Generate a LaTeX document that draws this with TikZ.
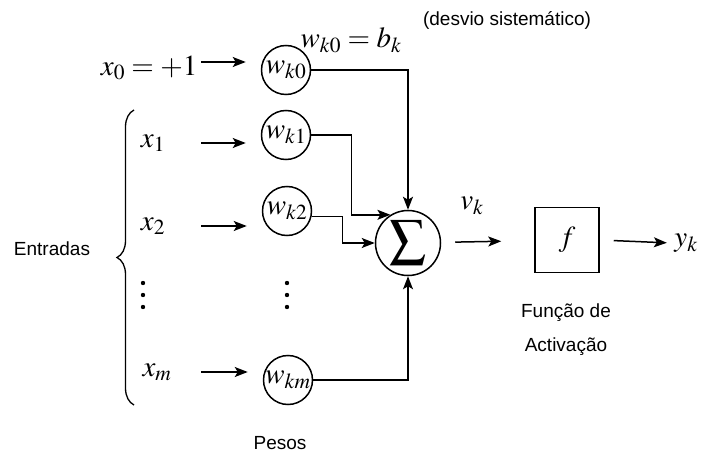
\documentclass[tikz,border=0pt]{standalone}
\usepackage{mathptmx}
\usepackage[no-math]{fontspec}
\setmainfont{Liberation Sans}
\usetikzlibrary{arrows.meta,decorations.pathreplacing}

\begin{document}
\begin{tikzpicture}[
  x=1pt,y=-1pt,
  >={Stealth[length=13pt,width=10pt,inset=3pt]},
  lbl/.style={font=\fontsize{19}{23}\selectfont},
  mth/.style={font=\fontsize{29}{33}\selectfont},
  weight/.style={draw,circle,line width=1.5pt,minimum size=49pt,inner sep=0pt,font=\fontsize{29}{33}\selectfont},
  flow/.style={->,line width=1.5pt},
  wire/.style={->,line width=1.4pt}
]
\useasboundingbox (0,0) rectangle (706,457);

\node[mth,anchor=east] (x0) at (201,68) {$x_0=+1$};
\node[mth] (x1) at (153,143) {$x_1$};
\node[mth] (x2) at (153,226) {$x_2$};
\node[mth] (xm) at (157,372) {$x_m$};

\node[weight] (wk0) at (286,70) {$w_{k0}$};
\node[weight] (wk1) at (286,135) {$w_{k1}$};
\node[weight] (wk2) at (287,211) {$w_{k2}$};
\node[weight] (wkm) at (288,380) {$w_{km}$};

\foreach \dy in {283,295,307} {
  \fill (143,\dy) circle (2.2pt);
  \fill (287,\dy) circle (2.2pt);
}

\node[draw,circle,line width=1.5pt,minimum size=65pt,inner sep=0pt,font=\fontsize{52}{56}\selectfont] (sum) at (408,243) {$\sum$};
\node[draw,line width=1.5pt,minimum width=64pt,minimum height=65pt,mth] (act) at (567,240) {$f$};
\node[mth] (yk) at (686,243) {$y_k$};
\node[mth] (vk) at (472,206) {$v_k$};

\node[mth] (bias) at (351,40) {$w_{k0}=b_k$};
\node[lbl] (desvio) at (507,20) {(desvio sistemático)};
\node[lbl] (entradas) at (52,249) {Entradas};
\node[lbl] (pesos) at (280,443) {Pesos};
\node[lbl] (funcao) at (566,313) {Função de};
\node[lbl] (activ) at (566,347) {Activação};

\coordinate (bb) at (134,405);
\coordinate (bt) at (134,110);
\draw[line width=1.3pt,decoration={brace,amplitude=17pt},decorate] (bb) -- (bt);

\draw[flow,shorten >=15pt] ([yshift=6pt]x0.east) -- ([yshift=6pt]x0.east -| wk0.west);
\draw[flow,shorten >=15pt] (x1.east -| x0.east) -- (x1.east -| wk1.west);
\draw[flow,shorten >=15pt] (x2.east -| x0.east) -- (x2.east -| wk2.west);
\draw[flow,shorten >=15pt] (xm.east -| x0.east) -- (xm.east -| wkm.west);

\draw[wire] (wk0.east) -| (sum.north);
\draw[wire] (wk1.east) -- ++(40,0) |- (sum.122);
\draw[wire] (wk2.-12) -- ++(31,0) |- (sum.west);
\draw[wire] (wkm.east) -| (sum.south);

\draw[flow,shorten <=14pt,shorten >=33pt] (sum) -- (act);
\draw[flow,shorten <=14pt,shorten >=4pt] (act.east) -- (yk.west);
\end{tikzpicture}
\end{document}
